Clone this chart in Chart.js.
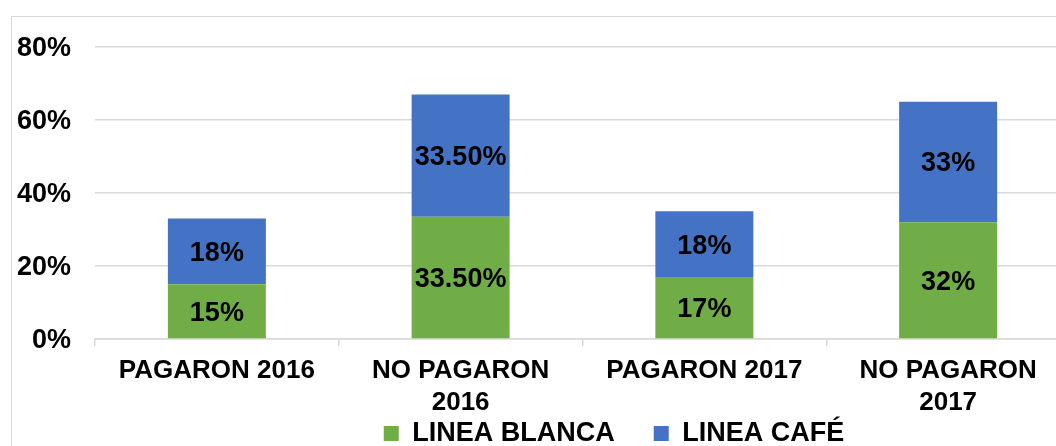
<!DOCTYPE html>
<html>
<head>
<meta charset="utf-8">
<script src="https://cdn.jsdelivr.net/npm/chart.js@4"></script>
<style>
html,body{margin:0;padding:0;background:#fff;overflow:hidden;width:1056px;height:446px;}
#frame{position:absolute;left:11px;top:16px;width:1200px;height:600px;border:1.5px solid #d9d9d9;box-sizing:border-box;}
#c{position:absolute;left:0;top:0;}
</style>
</head>
<body>
<div id="frame"></div>
<canvas id="c" width="1075" height="446"></canvas>
<script>
const categories = [["PAGARON 2016"], ["NO PAGARON", "2016"], ["PAGARON 2017"], ["NO PAGARON", "2017"]];
const seriesNames = ["LINEA BLANCA", "LINEA CAFÉ"];
const lineaBlanca = [15, 33.5, 17, 32];
const lineaCafe = [18, 33.5, 18, 33];
const lineaBlancaLabels = ["15%", "33.50%", "17%", "32%"];
const lineaCafeLabels = ["18%", "33.50%", "18%", "33%"];
const yTicks = [0, 20, 40, 60, 80];

const FONT = "'Liberation Sans', Arial, sans-serif";

const segmentLabels = {
  id: 'segmentLabels',
  afterDatasetsDraw(chart) {
    const ctx = chart.ctx;
    ctx.save();
    ctx.font = "bold 27px " + FONT;
    ctx.fillStyle = "#000";
    ctx.textAlign = "center";
    ctx.textBaseline = "middle";
    chart.data.datasets.forEach((ds, di) => {
      const meta = chart.getDatasetMeta(di);
      meta.data.forEach((el, i) => {
        const y = (el.y + el.base) / 2;
        ctx.fillText(ds.labelsText[i], el.x, y + 2);
      });
    });
    ctx.restore();
  }
};

const legendPlace = {
  id: 'legendPlace',
  afterLayout(chart) {
    const lg = chart.legend;
    if (!lg) return;
    lg.left += 79; lg.right += 79;
    lg.top = 381; lg.bottom = 446; lg.height = lg.bottom - lg.top;
  }
};

new Chart(document.getElementById('c'), {
  type: 'bar',
  data: {
    labels: categories,
    datasets: [
      { label: seriesNames[0], data: lineaBlanca, labelsText: lineaBlancaLabels, backgroundColor: '#70AD47', borderWidth: 0 },
      { label: seriesNames[1], data: lineaCafe, labelsText: lineaCafeLabels, backgroundColor: '#4472C4', borderWidth: 0 }
    ]
  },
  options: {
    responsive: false,
    animation: false,
    devicePixelRatio: 1,
    layout: { padding: { top: 47, left: 0, right: 5, bottom: 0 } },
    datasets: { bar: { categoryPercentage: 1, barPercentage: 0.402 } },
    scales: {
      x: {
        stacked: true,
        grid: { display: true, drawOnChartArea: false, drawTicks: true, tickLength: 7, color: '#d9d9d9', lineWidth: 1.5, offset: true },
        border: { display: true, color: '#d9d9d9', width: 1.5 },
        ticks: { color: '#000', padding: 9, font: { family: FONT, size: 26, weight: 'bold', lineHeight: 1.23 }, maxRotation: 0, autoSkip: false },
        afterFit(scale) { scale.height = 80; }
      },
      y: {
        stacked: true,
        min: 0, max: 80,
        afterBuildTicks(scale) { scale.ticks = yTicks.map(v => ({ value: v })); },
        grid: { color: '#d9d9d9', lineWidth: 1.5, drawTicks: false },
        border: { display: false },
        ticks: { color: '#000', padding: 24, labelOffset: 2, font: { family: FONT, size: 27, weight: 'bold' }, callback: v => v + '%' },
        afterFit(scale) { scale.width = 95; }
      }
    },
    plugins: {
      legend: {
        position: 'bottom',
        maxHeight: 27,
        labels: { boxWidth: 15, boxHeight: 15, padding: 39, color: '#000', font: { family: FONT, size: 27, weight: 'bold' } }
      },
      tooltip: { enabled: false }
    }
  },
  plugins: [segmentLabels, legendPlace]
});
</script>
</body>
</html>
